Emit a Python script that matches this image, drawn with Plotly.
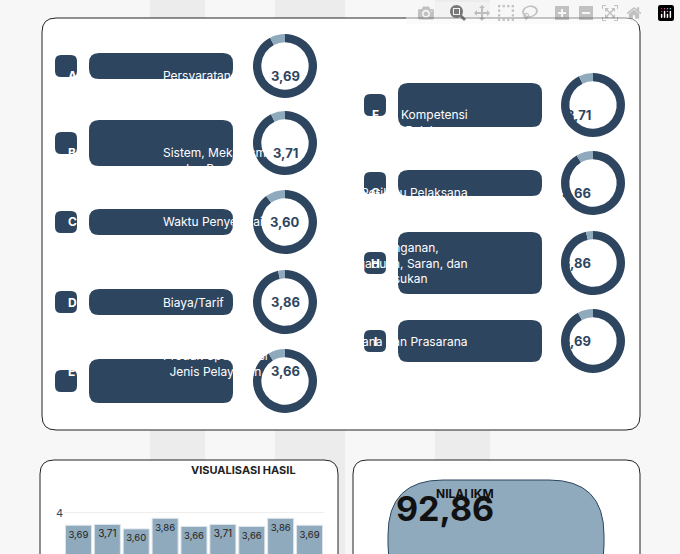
import plotly.graph_objects as go

W, H = 680, 554

letters_left = ["A", "B", "C", "D", "E"]
labels_left = ["Persyaratan", "Sistem, Mekanisme,<br>dan Prosedur", "Waktu Penyelesaian",
               "Biaya/Tarif", "Produk Spesifikasi<br>Jenis Pelayanan"]
values_left = [3.69, 3.71, 3.60, 3.86, 3.66]
letters_right = ["F", "G", "H", "I"]
labels_right = ["Kompetensi<br>Pelaksana", "Perilaku Pelaksana",
                "Penanganan,<br>Pengaduan, Saran, dan<br>Masukan", "Sarana dan Prasarana"]
values_right = [3.71, 3.66, 3.86, 3.69]
bar_values = values_left + values_right
bar_cats = letters_left + letters_right
nilai_ikm = "92,86"

DARK = "#2e4560"
LIGHT = "#8fa9bd"
FONT = "Inter"


def px(x):
    return x / W


def py(y):
    return 1 - y / H


def rrect(x0, y0, x1, y1, r):
    # rounded rectangle path in paper coords (pixel input)
    pts = (f"M{px(x0 + r)},{py(y0)} L{px(x1 - r)},{py(y0)} Q{px(x1)},{py(y0)} {px(x1)},{py(y0 + r)} "
           f"L{px(x1)},{py(y1 - r)} Q{px(x1)},{py(y1)} {px(x1 - r)},{py(y1)} "
           f"L{px(x0 + r)},{py(y1)} Q{px(x0)},{py(y1)} {px(x0)},{py(y1 - r)} "
           f"L{px(x0)},{py(y0 + r)} Q{px(x0)},{py(y0)} {px(x0 + r)},{py(y0)} Z")
    return pts


fig = go.Figure()
shapes = []
ann = []


def note(x, y, text, **font):
    ann.append(dict(xref="paper", yref="paper", x=px(x), y=py(y), text=text, showarrow=False,
                    font=dict(family=FONT, **font)))


# faint background columns
for a, b in [(150, 205), (275, 345), (435, 490)]:
    shapes.append(dict(type="rect", xref="paper", yref="paper", x0=px(a), x1=px(b), y0=0, y1=1,
                       fillcolor="#ececec", line_width=0, layer="below"))

# panels
for box in [(42, 18, 640, 430), (40, 460, 338, 600), (353, 460, 640, 600)]:
    shapes.append(dict(type="path", xref="paper", yref="paper", path=rrect(*box, 14),
                       fillcolor="white", line=dict(color="#222", width=1), layer="below"))

left_y = [66, 143, 222, 302, 381]
left_h = [26, 46, 26, 26, 44]
right_y = [105, 183, 263, 341]
right_h = [44, 26, 62, 42]


def item(letter, label, value, bx, lx0, lx1, dx, cy, h):
    shapes.append(dict(type="path", xref="paper", yref="paper",
                       path=rrect(bx - 11, cy - 11, bx + 11, cy + 11, 6),
                       fillcolor=DARK, line_width=0))
    note(bx, cy, f"<b>{letter}</b>", color="white", size=12)
    shapes.append(dict(type="path", xref="paper", yref="paper",
                       path=rrect(lx0, cy - h / 2, lx1, cy + h / 2, 10),
                       fillcolor=DARK, line_width=0))
    note((lx0 + lx1) / 2, cy, label, color="white", size=12)
    r = 32
    fig.add_trace(go.Pie(values=[value, 4 - value], hole=0.74, sort=False, direction="clockwise",
                         rotation=0, marker=dict(colors=[DARK, LIGHT]), textinfo="none",
                         hoverinfo="skip", showlegend=False,
                         domain=dict(x=[px(dx - r), px(dx + r)], y=[py(cy + r), py(cy - r)])))
    note(dx, cy, "<b>" + f"{value:.2f}".replace(".", ",") + "</b>", color=DARK, size=13)


for i in range(5):
    item(letters_left[i], labels_left[i], values_left[i], 66, 89, 233, 285, left_y[i], left_h[i])
for i in range(4):
    item(letters_right[i], labels_right[i], values_right[i], 375, 398, 542, 593, right_y[i], right_h[i])

# bar chart
fig.add_trace(go.Bar(x=bar_cats, y=bar_values, marker=dict(color=LIGHT, line=dict(color="#dde5ec", width=1)),
                     text=[f"{v:.2f}".replace(".", ",") for v in bar_values], textposition="inside",
                     insidetextanchor="end", textfont=dict(color="#222", size=10, family=FONT),
                     textangle=0, width=0.9, showlegend=False, hoverinfo="skip"))
note(189, 479, "<b>VISUALISASI HASIL</b>", color="#222", size=11)

# NILAI IKM
shapes.append(dict(type="path", xref="paper", yref="paper", path=rrect(388, 480, 604, 600, 55),
                   fillcolor=LIGHT, line=dict(color=DARK, width=1)))
note(496, 503, "<b>NILAI IKM</b>", color="#111", size=12)
note(496, 531, f"<b>{nilai_ikm}</b>", color="#111", size=34)

fig.update_layout(
    width=W, height=H, margin=dict(l=0, r=0, t=0, b=0),
    paper_bgcolor="#f7f7f7", plot_bgcolor="rgba(0,0,0,0)",
    shapes=shapes, annotations=ann,
    xaxis=dict(domain=[px(64), px(324)], showticklabels=False, showgrid=False, zeroline=False),
    yaxis=dict(domain=[0, py(505)], range=[2.98, 4.19], tickvals=[3, 4], showgrid=True,
               gridcolor="#eeeeee", zeroline=False, ticks="",
               tickfont=dict(color=DARK, size=11, family=FONT)),
    bargap=0.1,
)

fig.write_html("out.html")
with open("out.html") as f:
    page = f.read()
with open("out.html", "w") as f:
    f.write(page.replace("<head>", "<head><style>body{margin:0}</style>", 1))
